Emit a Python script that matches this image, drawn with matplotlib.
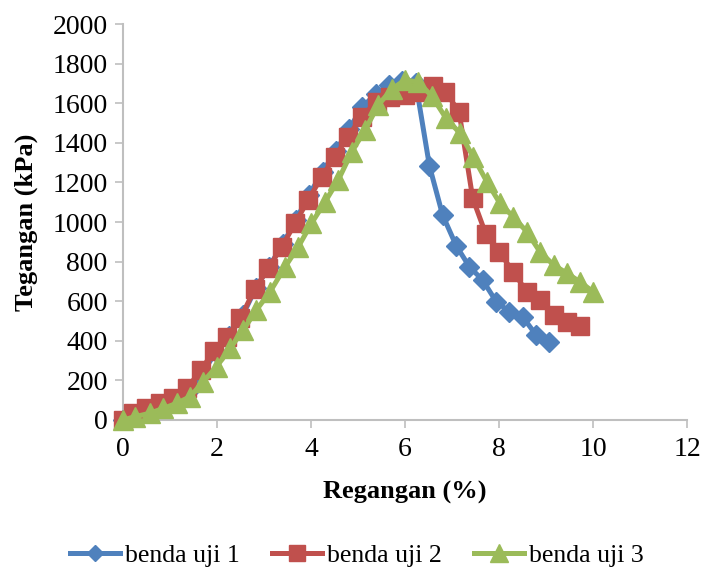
import matplotlib
matplotlib.use("Agg")
import matplotlib.pyplot as plt

# strain (%) and stress (kPa) for each test specimen
strain_1 = [0.00, 0.28, 0.57, 0.85, 1.13, 1.42, 1.70, 1.98, 2.26, 2.55, 2.83,
            3.11, 3.40, 3.68, 3.96, 4.25, 4.53, 4.81, 5.09, 5.38, 5.66, 5.94,
            6.23, 6.52, 6.80, 7.09, 7.37, 7.65, 7.94, 8.22, 8.50, 8.79, 9.07]
stress_1 = [0, 25, 50, 78, 108, 150, 240, 345, 425, 530, 668,
            775, 888, 1012, 1138, 1255, 1360, 1470, 1580, 1648, 1692, 1712,
            1700, 1283, 1035, 880, 774, 707, 598, 547, 522, 429, 396]

strain_2 = [0.00, 0.22, 0.50, 0.79, 1.07, 1.37, 1.65, 1.94, 2.22, 2.50, 2.80,
            3.09, 3.38, 3.66, 3.94, 4.23, 4.51, 4.79, 5.08, 5.40, 5.68, 6.00,
            6.27, 6.60, 6.86, 7.15, 7.44, 7.72, 8.00, 8.30, 8.59, 8.87, 9.16,
            9.44, 9.72]
stress_2 = [0, 34, 59, 84, 110, 160, 252, 348, 421, 514, 660,
            766, 875, 993, 1111, 1229, 1330, 1431, 1532, 1608, 1630, 1641,
            1655, 1685, 1658, 1557, 1120, 938, 850, 749, 648, 606, 530,
            496, 474]

strain_3 = [0.00, 0.26, 0.57, 0.86, 1.14, 1.43, 1.71, 1.99, 2.28, 2.56, 2.84,
            3.13, 3.45, 3.73, 4.01, 4.30, 4.58, 4.87, 5.15, 5.43, 5.72, 6.00,
            6.28, 6.57, 6.87, 7.17, 7.45, 7.74, 8.02, 8.30, 8.59, 8.87, 9.16,
            9.44, 9.72, 10.00]
stress_3 = [0, 17, 34, 59, 84, 118, 194, 269, 362, 455, 556,
            648, 774, 875, 993, 1102, 1212, 1355, 1465, 1590, 1672, 1717,
            1707, 1636, 1525, 1448, 1330, 1204, 1094, 1027, 951, 850, 783,
            742, 698, 648]

labels = ['benda uji 1', 'benda uji 2', 'benda uji 3']

plt.rcParams['font.family'] = ['Liberation Serif', 'DejaVu Serif']

fig = plt.figure(figsize=(7.04, 5.77), dpi=100)
ax = fig.add_axes([0.1747, 0.2721, 0.8012, 0.6863])

ax.plot(strain_1, stress_1, color='#4F81BD', lw=3.6, marker='D', ms=10,
        label=labels[0], zorder=3)
ax.plot(strain_2, stress_2, color='#C0504D', lw=3.6, marker='s', ms=13.5,
        label=labels[1], zorder=4)
ax.plot(strain_3, stress_3, color='#9BBB59', lw=3.6, marker='^', ms=14.5,
        label=labels[2], zorder=5)

ax.set_xlim(0, 12)
ax.set_ylim(0, 2000)
ax.set_xticks(range(0, 13, 2))
ax.set_yticks(range(0, 2001, 200))
ax.tick_params(labelsize=20, color='#BFBFBF', length=6, width=1.2, direction='out')
ax.tick_params(axis='x', pad=6)
ax.tick_params(axis='y', pad=5)
for s in ['top', 'right']:
    ax.spines[s].set_visible(False)
for s in ['left', 'bottom']:
    ax.spines[s].set_color('#BFBFBF')
    ax.spines[s].set_linewidth(1.5)
# markers at the origin sit over the axes edge
for line in ax.get_lines():
    line.set_clip_on(False)

fig.text(0.5744, 0.147, 'Regangan (%)', ha='center', va='center',
         fontsize=19, fontweight='bold')
fig.text(0.038, 0.615, 'Tegangan (kPa)', ha='center', va='center',
         fontsize=19, fontweight='bold', rotation=90)

fig.legend(loc='center', bbox_to_anchor=(0.507, 0.038), ncol=3, frameon=False,
           fontsize=18.5, handlelength=1.95, handletextpad=0.2,
           columnspacing=1.25, markerscale=0.85)

fig.savefig('out.png', dpi=100)
